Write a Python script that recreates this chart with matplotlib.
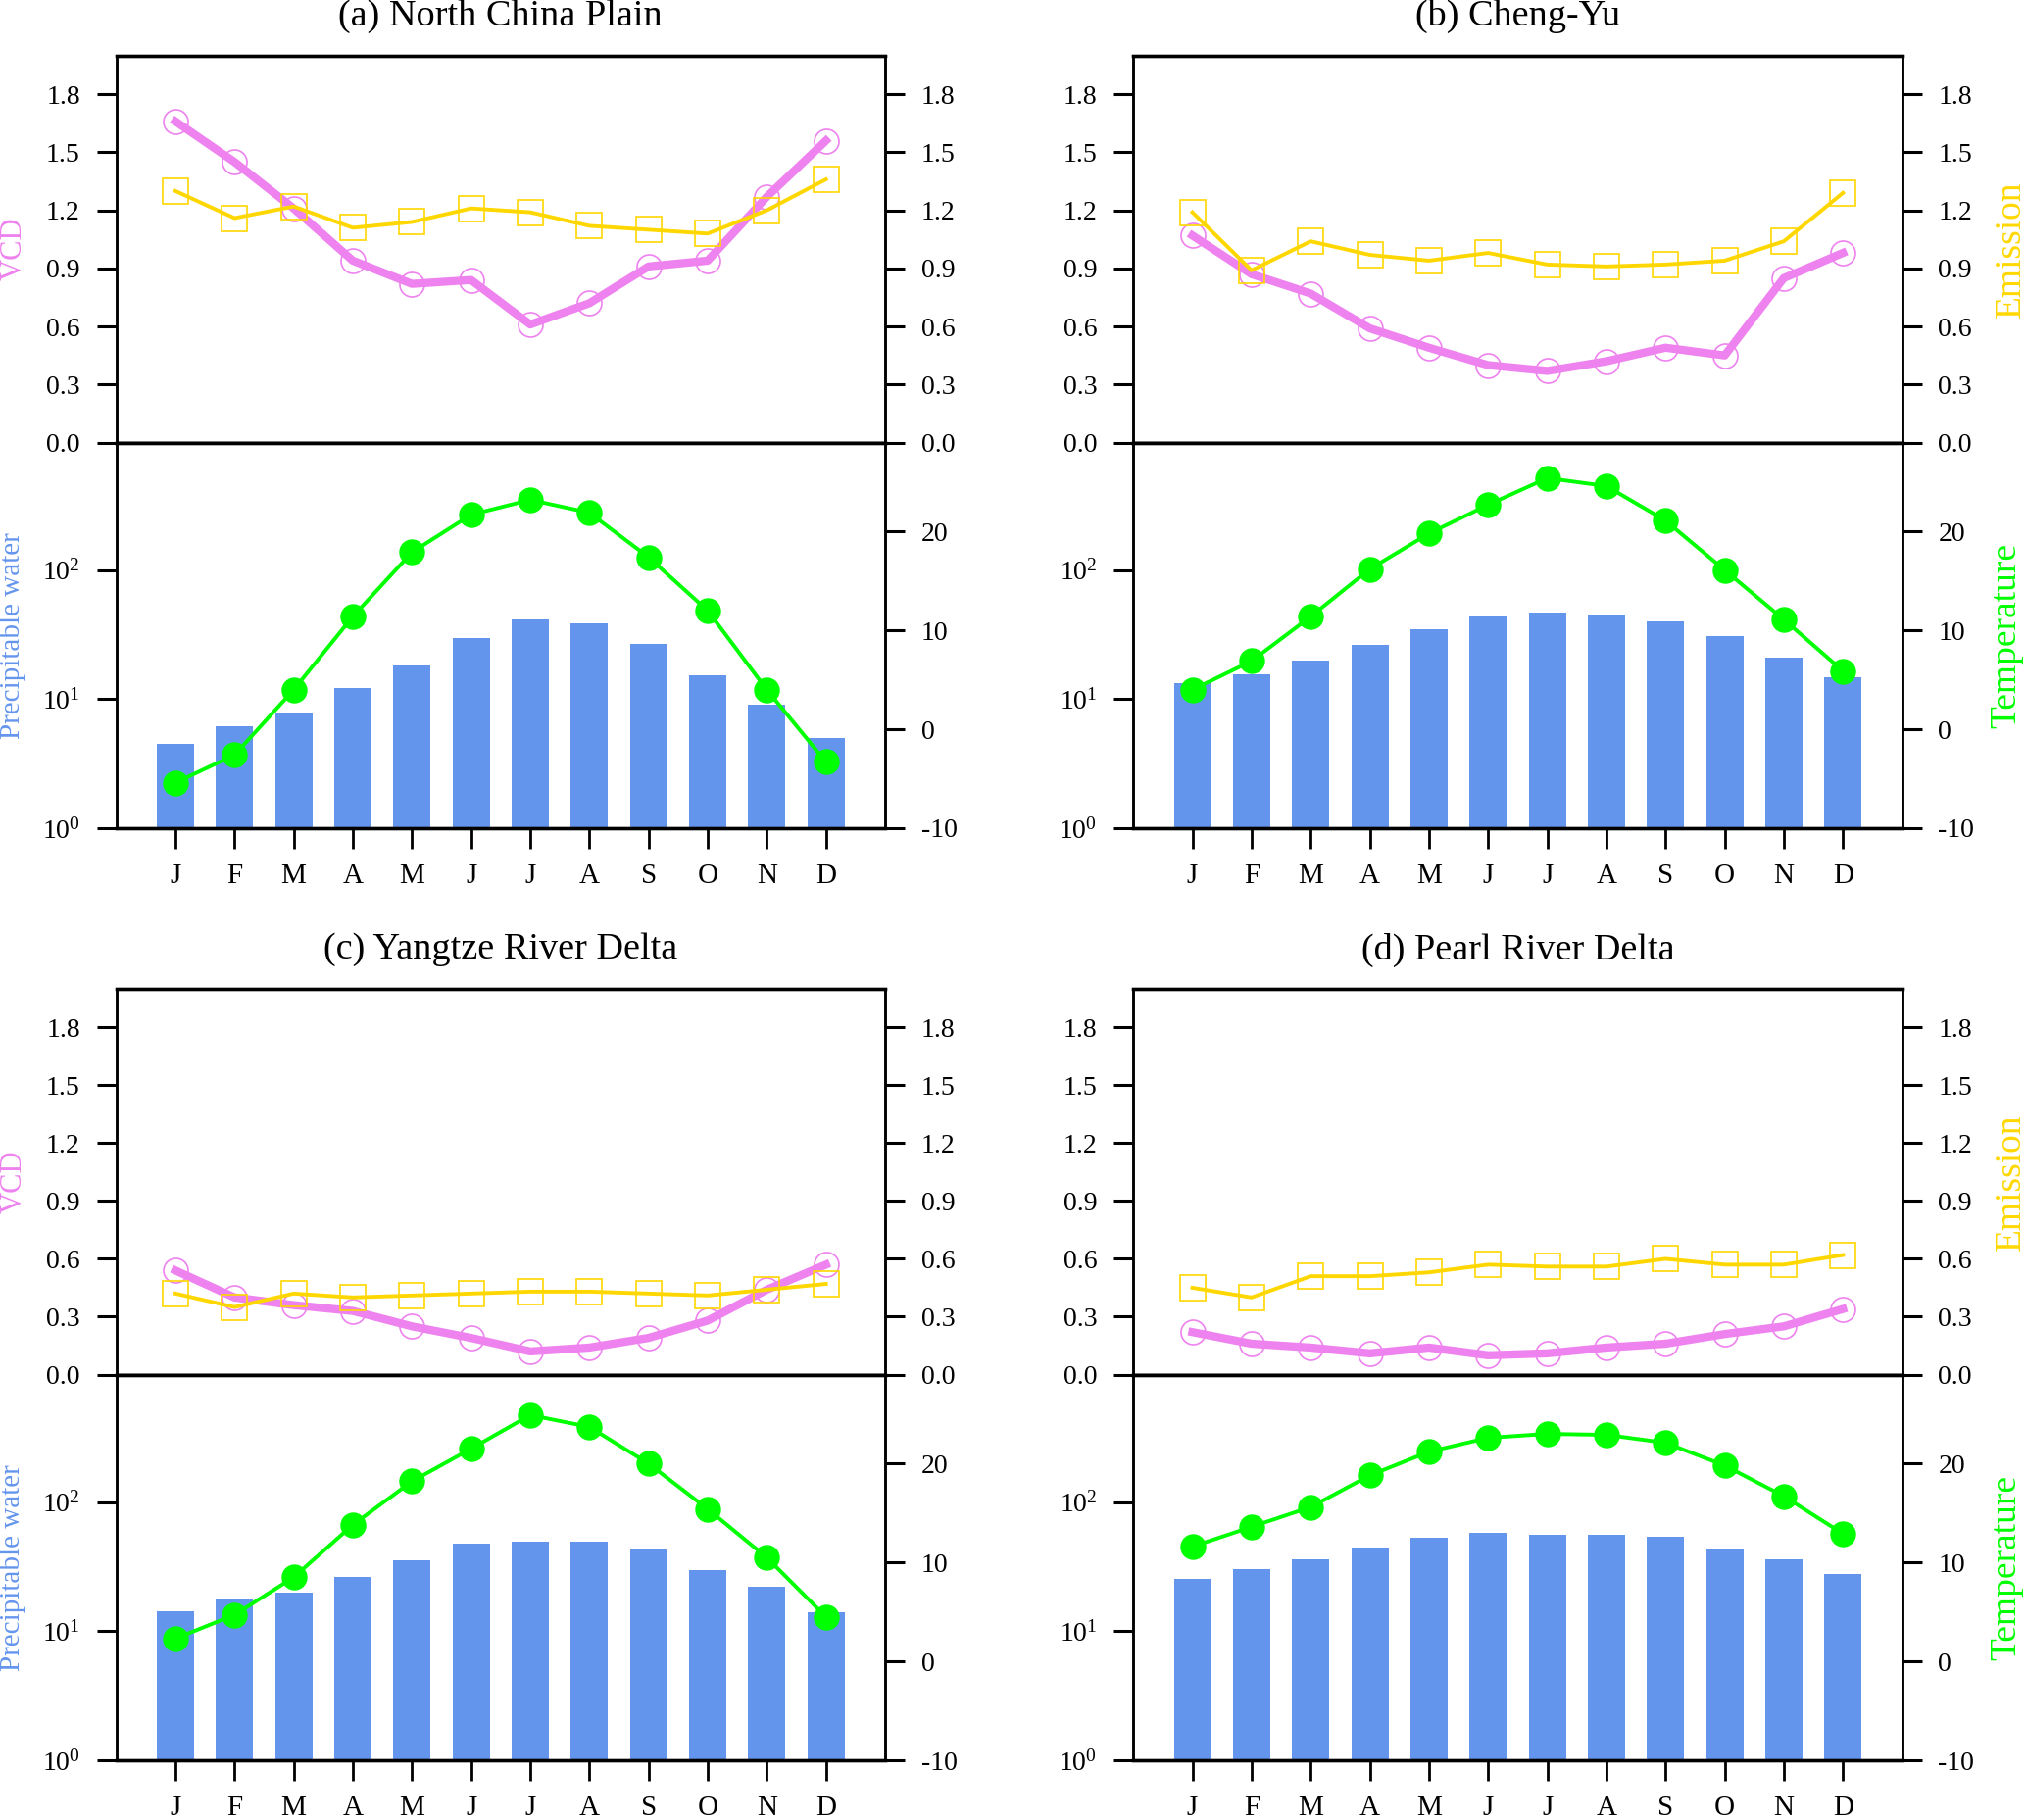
import numpy as np
import matplotlib
matplotlib.use("Agg")
import matplotlib.pyplot as plt
from matplotlib.ticker import FixedLocator, NullLocator, FormatStrFormatter

plt.rcParams['font.family'] = ['Liberation Serif', 'DejaVu Serif']
plt.rcParams['mathtext.fontset'] = 'custom'
plt.rcParams['mathtext.rm'] = 'Liberation Serif'
plt.rcParams['mathtext.it'] = 'Liberation Serif:italic'
plt.rcParams['axes.unicode_minus'] = False

# ---------------- data ----------------
months = ['J', 'F', 'M', 'A', 'M', 'J', 'J', 'A', 'S', 'O', 'N', 'D']
titles = ['(a) North China Plain', '(b) Cheng-Yu',
          '(c) Yangtze River Delta', '(d) Pearl River Delta']

vcd_ncp = [1.66, 1.45, 1.21, 0.94, 0.82, 0.84, 0.61, 0.72, 0.91, 0.94, 1.27, 1.56]
emis_ncp = [1.30, 1.16, 1.22, 1.11, 1.14, 1.21, 1.19, 1.12, 1.10, 1.08, 1.20, 1.36]
pw_ncp = [4.5, 6.2, 7.7, 12.1, 18.2, 29.6, 41.6, 39.0, 26.8, 15.3, 9.1, 5.0]
temp_ncp = [-5.4, -2.6, 4.0, 11.4, 17.9, 21.7, 23.2, 21.9, 17.4, 12.0, 4.0, -3.3]

vcd_cy = [1.07, 0.87, 0.77, 0.59, 0.49, 0.40, 0.37, 0.42, 0.49, 0.45, 0.85, 0.98]
emis_cy = [1.19, 0.89, 1.04, 0.97, 0.94, 0.98, 0.92, 0.91, 0.92, 0.94, 1.04, 1.29]
pw_cy = [13.3, 15.6, 20.0, 26.5, 35.1, 44.1, 47.0, 44.6, 39.9, 31.0, 21.1, 14.9]
temp_cy = [4.0, 6.9, 11.4, 16.2, 19.8, 22.7, 25.4, 24.6, 21.1, 16.1, 11.1, 5.9]

vcd_yrd = [0.54, 0.40, 0.36, 0.33, 0.25, 0.19, 0.12, 0.14, 0.19, 0.28, 0.44, 0.57]
emis_yrd = [0.42, 0.35, 0.42, 0.40, 0.41, 0.42, 0.43, 0.43, 0.42, 0.41, 0.44, 0.47]
pw_yrd = [14.2, 18.0, 20.0, 26.3, 35.6, 47.6, 49.3, 49.9, 42.9, 29.7, 22.2, 14.0]
temp_yrd = [2.3, 4.7, 8.5, 13.8, 18.2, 21.5, 24.9, 23.7, 20.0, 15.4, 10.5, 4.5]

vcd_prd = [0.22, 0.16, 0.14, 0.11, 0.14, 0.10, 0.11, 0.14, 0.16, 0.21, 0.25, 0.34]
emis_prd = [0.45, 0.40, 0.51, 0.51, 0.53, 0.57, 0.56, 0.56, 0.60, 0.57, 0.57, 0.62]
pw_prd = [25.6, 30.4, 36.4, 44.9, 53.5, 58.4, 55.7, 56.4, 53.8, 43.6, 36.4, 28.0]
temp_prd = [11.6, 13.6, 15.6, 18.8, 21.2, 22.6, 23.0, 22.9, 22.1, 19.8, 16.7, 12.9]

vcd_all = [vcd_ncp, vcd_cy, vcd_yrd, vcd_prd]
emis_all = [emis_ncp, emis_cy, emis_yrd, emis_prd]
pw_all = [pw_ncp, pw_cy, pw_yrd, pw_prd]
temp_all = [temp_ncp, temp_cy, temp_yrd, temp_prd]

vcd_ticks = [0.0, 0.3, 0.6, 0.9, 1.2, 1.5, 1.8]
pw_ticks = [1, 10, 100]
pw_ticklabels = ['$10^0$', '$10^1$', '$10^2$']
temp_ticks = [-10, 0, 10, 20]

# ---------------- styling ----------------
C_VCD = '#EE82EE'
C_EMIS = '#FFD700'
C_PW = '#6495ED'
C_TEMP = '#00FF00'

W, H = 2067, 1857
fig = plt.figure(figsize=(W / 100, H / 100), dpi=100)

lefts = [118.6 / W, 1156.2 / W]
aw = 784.4 / W
# (top_of_upper, divider, bottom_of_lower) in pixels from top
rows = [(56.7, 451.5, 845.0), (1009.0, 1402.5, 1796.0)]

x = np.arange(1, 13)

def style_y(ax, side):
    ax.tick_params(axis='y', which='major', direction='out', length=14.5,
                   width=2.2, pad=12, labelsize=20,
                   left=(side == 'left'), labelleft=(side == 'left'),
                   right=(side == 'right'), labelright=(side == 'right'))
    ax.tick_params(axis='y', which='minor', left=False, right=False)

def style_spines(ax):
    ax.spines['left'].set_linewidth(1.8)
    ax.spines['right'].set_linewidth(1.8)
    ax.spines['top'].set_linewidth(2.4)
    ax.spines['bottom'].set_linewidth(2.4)

for i in range(4):
    r, c = divmod(i, 2)
    top, mid, bot = rows[r]
    x0 = lefts[c]
    yT = 1 - mid / H
    hT = (mid - top) / H
    yB = 1 - bot / H
    hB = (bot - mid) / H

    # ---- upper panel: VCD & Emission ----
    axT = fig.add_axes([x0, yT, aw, hT])
    axT.plot(x, vcd_all[i], color=C_VCD, lw=6, marker='o', ms=18,
             mfc='none', mec=C_VCD, mew=1.2, zorder=3)
    axT.set_xlim(0, 13)
    axT.set_ylim(0, 2.0)
    axT.yaxis.set_major_locator(FixedLocator(vcd_ticks))
    axT.yaxis.set_major_formatter(FormatStrFormatter('%.1f'))
    axT.tick_params(axis='x', bottom=False, labelbottom=False, top=False)
    style_y(axT, 'left')
    style_spines(axT)

    axE = axT.twinx()
    axE.plot(x, emis_all[i], color=C_EMIS, lw=2.8, marker='s', ms=19,
             mfc='none', mec=C_EMIS, mew=1.2, zorder=4)
    axE.set_ylim(0, 2.0)
    axE.yaxis.set_major_locator(FixedLocator(vcd_ticks))
    axE.yaxis.set_major_formatter(FormatStrFormatter('%.1f'))
    axE.tick_params(axis='x', bottom=False, labelbottom=False, top=False)
    style_y(axE, 'right')
    style_spines(axE)

    # ---- lower panel: precipitable water & temperature ----
    axB = fig.add_axes([x0, yB, aw, hB])
    axB.bar(x, pw_all[i], width=0.63, color=C_PW, zorder=2)
    axB.set_yscale('log')
    axB.set_xlim(0, 13)
    axB.set_ylim(1, 10 ** 2.99)
    axB.yaxis.set_major_locator(FixedLocator(pw_ticks))
    axB.yaxis.set_minor_locator(NullLocator())
    axB.set_yticklabels(pw_ticklabels)
    axB.set_xticks(x)
    axB.set_xticklabels(months)
    axB.tick_params(axis='x', direction='out', length=15, width=2.0,
                    pad=11, labelsize=21)
    style_y(axB, 'left')
    style_spines(axB)

    axR = axB.twinx()
    axR.plot(x, temp_all[i], color=C_TEMP, lw=2.8, marker='o', ms=18,
             mfc=C_TEMP, mec=C_TEMP, zorder=4)
    axR.set_ylim(-10, 29)
    axR.yaxis.set_major_locator(FixedLocator(temp_ticks))
    style_y(axR, 'right')
    style_spines(axR)

    # ---- titles & labels ----
    xc = x0 + aw / 2
    fig.text(xc, 1 - (top - 40) / H, titles[i], ha='center', va='center',
             fontsize=27.5)
    if c == 0:
        fig.text(14 / W, yT + hT / 2, 'VCD', rotation=90, ha='center',
                 va='center', color=C_VCD, fontsize=22)
        fig.text(13 / W, yB + hB / 2, 'Precipitable water', rotation=90,
                 ha='center', va='center', color=C_PW, fontsize=21)
    else:
        fig.text(2052 / W, yT + hT / 2, 'Emission', rotation=90, ha='center',
                 va='center', color=C_EMIS, fontsize=27)
        fig.text(2047 / W, yB + hB / 2, 'Temperature', rotation=90,
                 ha='center', va='center', color=C_TEMP, fontsize=27)

fig.savefig('out.png', dpi=100)
